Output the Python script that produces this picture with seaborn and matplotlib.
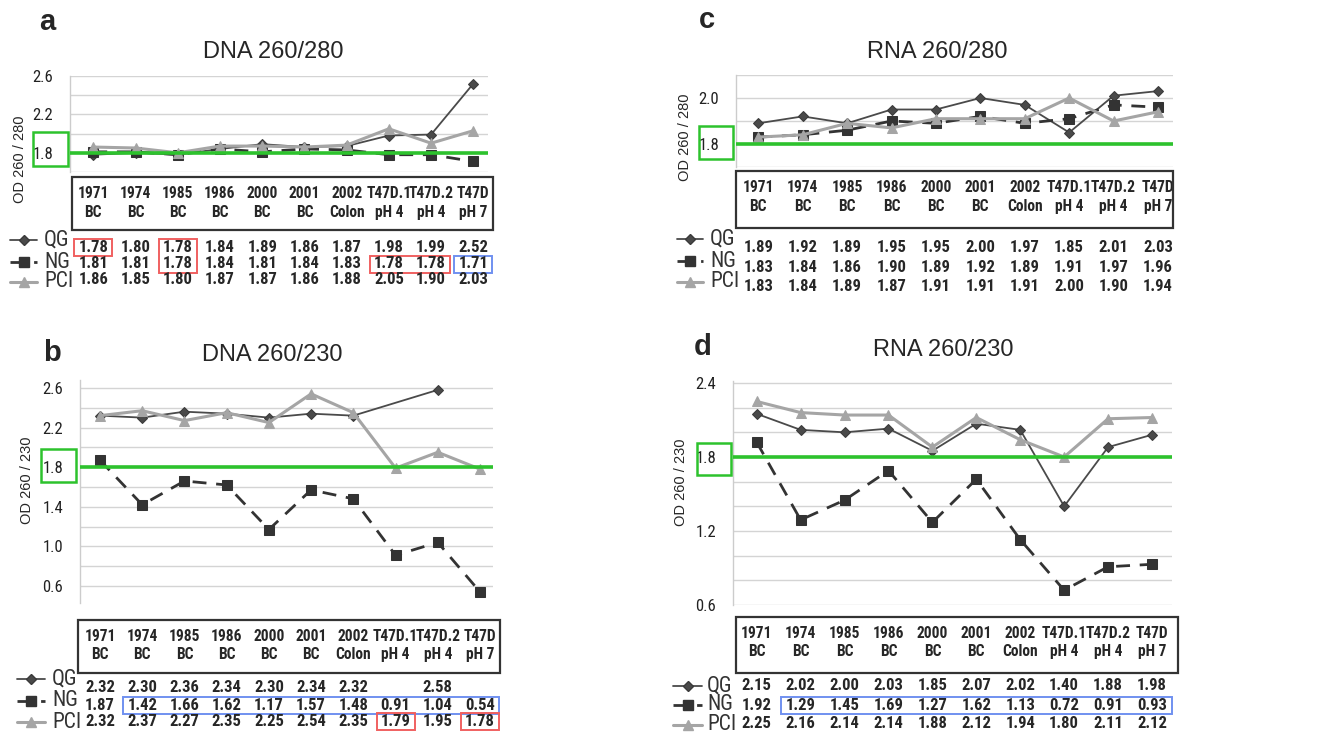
import numpy as np
import pandas as pd
import matplotlib
matplotlib.use("Agg")
import matplotlib.pyplot as plt
import matplotlib.transforms as mtransforms
from matplotlib import font_manager
from matplotlib.patches import Rectangle
from matplotlib.lines import Line2D
import seaborn as sns

categories = ["1971\nBC", "1974\nBC", "1985\nBC", "1986\nBC", "2000\nBC", "2001\nBC",
              "2002\nColon", "T47D.1\npH 4", "T47D.2\npH 4", "T47D\npH 7"]
methods = ["QG", "NG", "PCI"]

dna280_qg = [1.78, 1.80, 1.78, 1.84, 1.89, 1.86, 1.87, 1.98, 1.99, 2.52]
dna280_ng = [1.81, 1.81, 1.78, 1.84, 1.81, 1.84, 1.83, 1.78, 1.78, 1.71]
dna280_pci = [1.86, 1.85, 1.80, 1.87, 1.87, 1.86, 1.88, 2.05, 1.90, 2.03]

dna230_qg = [2.32, 2.30, 2.36, 2.34, 2.30, 2.34, 2.32, np.nan, 2.58, np.nan]
dna230_ng = [1.87, 1.42, 1.66, 1.62, 1.17, 1.57, 1.48, 0.91, 1.04, 0.54]
dna230_pci = [2.32, 2.37, 2.27, 2.35, 2.25, 2.54, 2.35, 1.79, 1.95, 1.78]

rna280_qg = [1.89, 1.92, 1.89, 1.95, 1.95, 2.00, 1.97, 1.85, 2.01, 2.03]
rna280_ng = [1.83, 1.84, 1.86, 1.90, 1.89, 1.92, 1.89, 1.91, 1.97, 1.96]
rna280_pci = [1.83, 1.84, 1.89, 1.87, 1.91, 1.91, 1.91, 2.00, 1.90, 1.94]

rna230_qg = [2.15, 2.02, 2.00, 2.03, 1.85, 2.07, 2.02, 1.40, 1.88, 1.98]
rna230_ng = [1.92, 1.29, 1.45, 1.69, 1.27, 1.62, 1.13, 0.72, 0.91, 0.93]
rna230_pci = [2.25, 2.16, 2.14, 2.14, 1.88, 2.12, 1.94, 1.80, 2.11, 2.12]

threshold = 1.8

# ---- style ----
sns.set_style("white")
plt.rcParams["font.family"] = ["Liberation Sans", "DejaVu Sans"]


def pick_narrow():
    # first condensed family that has both a regular and a bold face
    weights = {}
    for f in font_manager.fontManager.ttflist:
        w = f.weight if isinstance(f.weight, int) else {"normal": 400, "regular": 400, "bold": 700}.get(f.weight, 400)
        weights.setdefault(f.name, set()).add(w)
    cands = ["Liberation Sans Narrow", "Arial Narrow", "Nimbus Sans Narrow", "Roboto Condensed",
             "Archivo Narrow", "PT Sans Narrow", "Barlow Semi Condensed"]
    for c in cands:
        ws = weights.get(c, set())
        if 400 in ws and any(w >= 700 for w in ws):
            return [c, "Liberation Sans", "DejaVu Sans"]
    return ["Liberation Sans", "DejaVu Sans"]


NARROW = pick_narrow()

W, H = 1327, 735
GREEN = "#2dc22d"
RED = "#f06060"
BLUE = "#7090f0"

series_style = {
    "QG": dict(color="#4a4a4a", marker="D", markersize=5, lw=1.3, linestyle="-", mec="#3a3a3a"),
    "NG": dict(color="#333333", marker="s", markersize=7, lw=2.0, linestyle=(0, (5, 3.5)), mec="#333333"),
    "PCI": dict(color="#a5a5a5", marker="^", markersize=7.5, lw=2.2, linestyle="-", mec="#a5a5a5"),
}

# layout of each panel in pixel units of the 1327x735 canvas
panels = [
    dict(letter="a", title="DNA 260/280", ylabel="OD 260 / 280",
         series=[dna280_qg, dna280_ng, dna280_pci],
         ax_px=(70, 76, 488, 172), ylim=(1.6, 2.6), grid=np.arange(1.6, 2.61, 0.2),
         labels=[1.8, 2.2, 2.6], pts=(93.3, 473.3),
         box=(72, 177, 493, 230), cat_y=203, rows_y=(247, 264, 280),
         leg_x=(10, 37), leg_lab_x=44, leg_y=(240, 262, 282),
         green_box=(33, 132, 68, 166), title_xy=(273, 52), letter_xy=(47, 22), ylab_xy=(20, 159),
         marks=[(0, 0, 0, 0, RED), (0, 1, 2, 2, RED), (1, 1, 7, 8, RED), (1, 1, 9, 9, BLUE)]),
    dict(letter="c", title="RNA 260/280", ylabel="OD 260 / 280",
         series=[rna280_qg, rna280_ng, rna280_pci],
         ax_px=(736, 75, 1173, 167), ylim=(1.7, 2.1), grid=np.arange(1.7, 2.11, 0.1),
         labels=[1.8, 2.0], pts=(758.3, 1158),
         box=(736, 171, 1173, 228), cat_y=197, rows_y=(247, 268, 287),
         leg_x=(677, 703), leg_lab_x=710, leg_y=(239, 261, 282),
         green_box=(699, 126, 733, 159), title_xy=(937, 52), letter_xy=(707, 20), ylab_xy=(685, 137),
         marks=[]),
    dict(letter="b", title="DNA 260/230", ylabel="OD 260 / 230",
         series=[dna230_qg, dna230_ng, dna230_pci],
         ax_px=(80, 380, 493, 603), ylim=(0.428, 2.68), grid=np.arange(0.6, 2.61, 0.2),
         labels=[0.6, 1.0, 1.4, 1.8, 2.2, 2.6], pts=(100, 480),
         box=(78, 620, 500, 673), cat_y=645.5, rows_y=(688, 705, 721),
         leg_x=(17, 45), leg_lab_x=52, leg_y=(679, 701, 722),
         green_box=(41, 449, 76, 482), title_xy=(272, 355), letter_xy=(52, 353), ylab_xy=(27, 480),
         marks=[(1, 1, 1, 9, BLUE), (2, 2, 7, 7, RED), (2, 2, 9, 9, RED)]),
    dict(letter="d", title="RNA 260/230", ylabel="OD 260 / 230",
         series=[rna230_qg, rna230_ng, rna230_pci],
         ax_px=(733, 381, 1172, 605), ylim=(0.6, 2.416), grid=np.arange(0.6, 2.41, 0.2),
         labels=[0.6, 1.2, 1.8, 2.4], pts=(756.7, 1152),
         box=(736, 617, 1178, 673), cat_y=642.5, rows_y=(686, 705, 723),
         leg_x=(673, 702), leg_lab_x=707, leg_y=(686, 705, 725),
         green_box=(697, 443, 731, 475), title_xy=(943, 350), letter_xy=(703, 347), ylab_xy=(681, 482),
         marks=[(1, 1, 1, 9, BLUE)]),
]


def fx(px):
    return px / W


def fy(py):
    return 1 - py / H


fig = plt.figure(figsize=(W / 100, H / 100), dpi=100)
fig.patch.set_facecolor("white")

for p in panels:
    l, t, r, b = p["ax_px"]
    ax = fig.add_axes([fx(l), fy(b), (r - l) / W, (b - t) / H])

    # x limits so that the first / last category fall on their pixel columns
    step = (p["pts"][1] - p["pts"][0]) / 9
    ax.set_xlim(-(p["pts"][0] - l) / step, 9 + (r - p["pts"][1]) / step)
    ax.set_ylim(*p["ylim"])

    x_idx = np.arange(len(categories))
    for name, vals in zip(methods, p["series"]):
        s = pd.Series(vals, index=x_idx).dropna()
        st = series_style[name]
        sns.lineplot(x=s.index, y=s.values, ax=ax, color=st["color"], lw=st["lw"],
                     linestyle=st["linestyle"], marker=st["marker"], markersize=st["markersize"],
                     markeredgecolor=st["mec"], markerfacecolor=st["color"], zorder=3)

    ax.axhline(threshold, color=GREEN, lw=2.6, zorder=4)

    # axis cosmetics
    ax.set_xticks([])
    ax.set_yticks(p["grid"])
    ax.set_yticklabels([f"{v:.1f}" if any(abs(v - q) < 1e-6 for q in p["labels"]) else "" for v in p["grid"]],
                       family=NARROW, fontsize=12, color="#222222")
    ax.tick_params(axis="y", length=0, pad=12)
    ax.yaxis.grid(True, color="#d4d4d4", lw=1)
    ax.set_axisbelow(True)
    for side in ["top", "right", "bottom"]:
        ax.spines[side].set_visible(False)
    ax.spines["left"].set_color("#cccccc")
    ax.spines["left"].set_linewidth(1)
    ax.set_xlabel("")
    ax.set_ylabel("")

    # titles, letters, y label
    fig.text(fx(p["title_xy"][0]), fy(p["title_xy"][1]), p["title"], ha="center", va="center", fontsize=17)
    fig.text(fx(p["letter_xy"][0]), fy(p["letter_xy"][1]), p["letter"], ha="center", va="center",
             fontsize=21, fontweight="bold")
    fig.text(fx(p["ylab_xy"][0]), fy(p["ylab_xy"][1]), p["ylabel"], ha="center", va="center",
             rotation=90, fontsize=10.5)

    # green box around the 1.8 tick label
    gl, gt, gr, gb = p["green_box"]
    fig.add_artist(Rectangle((fx(gl), fy(gb)), (gr - gl) / W, (gb - gt) / H, transform=fig.transFigure,
                             fill=False, edgecolor=GREEN, lw=1.8))

    # table box with sample names
    bl, bt, br, bb = p["box"]
    fig.add_artist(Rectangle((fx(bl), fy(bb)), (br - bl) / W, (bb - bt) / H, transform=fig.transFigure,
                             fill=False, edgecolor="#333333", lw=1.6))
    trans = mtransforms.blended_transform_factory(ax.transData, fig.transFigure)
    for i, cat in enumerate(categories):
        ax.text(i, fy(p["cat_y"]), cat, transform=trans, ha="center", va="center", fontsize=11.2,
                fontweight="bold", family=NARROW, linespacing=1.3, clip_on=False)

    # value rows
    for row, vals in enumerate(p["series"]):
        for i, v in enumerate(vals):
            if np.isnan(v):
                continue
            ax.text(i, fy(p["rows_y"][row]), f"{v:.2f}", transform=trans, ha="center", va="center",
                    fontsize=12, fontweight="bold", family=NARROW, clip_on=False)

    # highlight boxes around single values
    for r0, r1, i0, i1, col in p["marks"]:
        y_top = p["rows_y"][r0] - 8.5
        y_bot = p["rows_y"][r1] + 8.5
        ax.add_patch(Rectangle((i0 - 0.45, fy(y_bot)), (i1 - i0) + 0.9, (y_bot - y_top) / H,
                               transform=trans, fill=False, edgecolor=col, lw=1.4, clip_on=False))

    # legend on the left of the value rows
    x0, x1 = p["leg_x"]
    for name, ly in zip(methods, p["leg_y"]):
        st = series_style[name]
        fig.add_artist(Line2D([fx(x0), fx((x0 + x1) / 2), fx(x1)], [fy(ly)] * 3, transform=fig.transFigure,
                              color=st["color"], lw=st["lw"], linestyle=st["linestyle"],
                              marker=st["marker"], markersize=st["markersize"], markevery=[1],
                              markerfacecolor=st["color"], markeredgecolor=st["mec"]))
        fig.text(fx(p["leg_lab_x"]), fy(ly), name, ha="left", va="center", fontsize=15.5,
                 family=NARROW, color="#333333")

fig.savefig("out.png", dpi=100)
